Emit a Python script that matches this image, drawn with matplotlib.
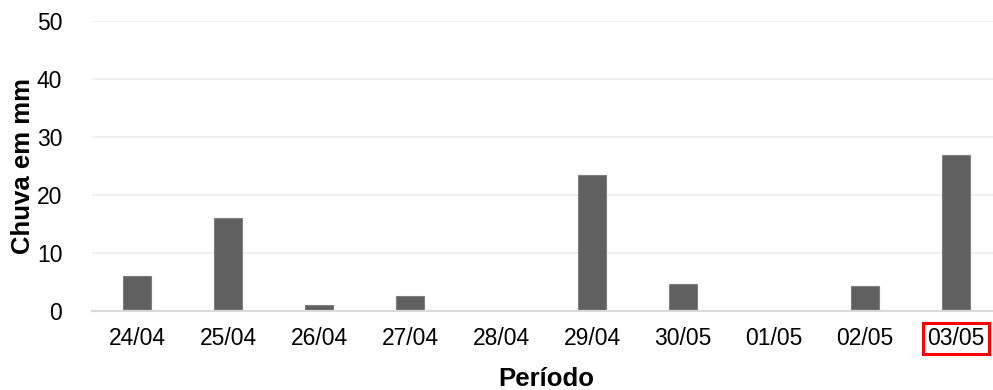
import matplotlib
matplotlib.use("Agg")
import matplotlib.pyplot as plt

categories = ["24/04", "25/04", "26/04", "27/04", "28/04", "29/04", "30/05", "01/05", "02/05", "03/05"]
rain_mm = [5.9, 16.0, 1.0, 2.6, 0.0, 23.4, 4.6, 0.0, 4.2, 26.8]
y_ticks = [0, 10, 20, 30, 40, 50]

plt.rcParams['font.family'] = ['Liberation Sans', 'DejaVu Sans']

fig = plt.figure(figsize=(9.93, 3.9), dpi=100)
ax = fig.add_axes([91.5 / 993, (390 - 310.7) / 390, 910 / 993, 290 / 390])

x = list(range(len(categories)))
ax.bar(x, rain_mm, width=0.315, color='#606060', edgecolor='#7f7f7f', linewidth=0.8, zorder=3)

ax.set_xlim(-0.5, len(categories) - 0.5)
ax.set_ylim(0, 50)
ax.set_yticks(y_ticks)
ax.set_xticks(x)
ax.set_xticklabels(categories)

ax.yaxis.grid(True, color='#eeeeee', linewidth=1.2, zorder=0)
ax.set_axisbelow(True)
for s in ['top', 'right', 'left']:
    ax.spines[s].set_visible(False)
ax.spines['bottom'].set_color('#d9d9d9')
ax.spines['bottom'].set_linewidth(1.6)
ax.spines['bottom'].set_zorder(4)

ax.tick_params(axis='both', length=0, labelsize=16.5, colors='black')
ax.tick_params(axis='y', pad=21)
ax.tick_params(axis='x', pad=12)

ax.set_xlabel('Período', fontsize=18.5, fontweight='bold', labelpad=12)
ax.set_ylabel('Chuva em mm', fontsize=18.5, fontweight='bold', labelpad=1)

last = ax.get_xticklabels()[-1]
last.set_bbox(dict(facecolor='none', edgecolor='#ff0000', linewidth=2.2, pad=3))

fig.savefig('out.png', dpi=100)
